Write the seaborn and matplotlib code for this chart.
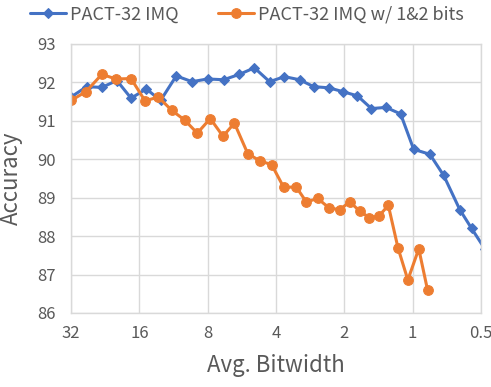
import numpy as np
import pandas as pd
import matplotlib
matplotlib.use("Agg")
import matplotlib.pyplot as plt
import seaborn as sns

# Data
blue_bits = [32, 27.3, 23.4, 20.1, 17.4, 14.9, 12.9, 11.0, 9.38, 8.0, 6.8, 5.8, 4.98, 4.27,
             3.67, 3.15, 2.73, 2.34, 2.03, 1.75, 1.52, 1.31, 1.13, 0.99, 0.84, 0.73, 0.62,
             0.55, 0.48]
blue_acc = [91.62, 91.89, 91.87, 92.05, 91.59, 91.83, 91.53, 92.17, 92.02, 92.09, 92.07,
            92.21, 92.38, 92.02, 92.15, 92.07, 91.89, 91.86, 91.76, 91.65, 91.32, 91.35,
            91.18, 90.26, 90.13, 89.58, 88.69, 88.20, 87.66]

orange_bits = [32, 27.5, 23.4, 20.3, 17.4, 15.1, 13.2, 11.5, 10.1, 8.89, 7.79, 6.85, 6.1,
               5.33, 4.72, 4.18, 3.70, 3.26, 2.94, 2.62, 2.33, 2.10, 1.89, 1.71, 1.55, 1.41,
               1.28, 1.16, 1.05, 0.94, 0.86]
orange_acc = [91.53, 91.76, 92.21, 92.09, 92.10, 91.52, 91.62, 91.27, 91.02, 90.68, 91.06,
              90.60, 90.94, 90.15, 89.96, 89.86, 89.27, 89.28, 88.89, 88.98, 88.73, 88.69,
              88.89, 88.65, 88.48, 88.52, 88.80, 87.69, 86.86, 87.67, 86.60]

series_names = ["PACT-32 IMQ", "PACT-32 IMQ w/ 1&2 bits"]
x_ticks = [32, 16, 8, 4, 2, 1, 0.5]
x_tick_labels = ["32", "16", "8", "4", "2", "1", "0.5"]
y_ticks = [86, 87, 88, 89, 90, 91, 92, 93]

sns.set_theme(style="white")
plt.rcParams['font.family'] = ['Noto Sans CJK SC', 'DejaVu Sans']
plt.rcParams['font.weight'] = 'light'
plt.rcParams['axes.labelweight'] = 'light'

BLUE = "#4472C4"
ORANGE = "#ED7D31"
GRAY_TXT = "#595959"
GRID = "#D9D9D9"

fig = plt.figure(figsize=(4.91, 3.87), dpi=100)
ax = fig.add_axes([71/491, 74/387, 410/491, 269/387])

df_b = pd.DataFrame({"bits": blue_bits, "acc": blue_acc})
df_o = pd.DataFrame({"bits": orange_bits, "acc": orange_acc})

sns.lineplot(data=df_b, x="bits", y="acc", ax=ax, color=BLUE, marker="D",
             markersize=5.5, markeredgecolor=BLUE, linewidth=2.2, sort=False,
             label=series_names[0])
sns.lineplot(data=df_o, x="bits", y="acc", ax=ax, color=ORANGE, marker="o",
             markersize=7, markeredgecolor=ORANGE, linewidth=2.2, sort=False,
             label=series_names[1])

ax.set_xscale("log", base=2)
ax.set_xlim(32, 0.5)
ax.set_ylim(86, 93)
ax.set_xticks(x_ticks)
ax.set_xticklabels(x_tick_labels)
ax.minorticks_off()
ax.set_yticks(y_ticks)
ax.set_yticklabels([str(v) for v in y_ticks])

ax.grid(True, color=GRID, linewidth=1.0)
ax.set_axisbelow(True)
for s in ax.spines.values():
    s.set_color(GRID)
    s.set_linewidth(1.0)

ax.tick_params(axis="x", length=0, pad=9, labelsize=12, labelcolor=GRAY_TXT)
ax.tick_params(axis="y", length=0, pad=11, labelsize=12, labelcolor=GRAY_TXT)

ax.set_xlabel("Avg. Bitwidth", fontsize=16, color=GRAY_TXT, labelpad=8, fontweight='light')
ax.set_ylabel("Accuracy", fontsize=16, color=GRAY_TXT, labelpad=10, fontweight='light')

handles, labels = ax.get_legend_handles_labels()
ax.get_legend().remove()
fig.legend(handles, labels, loc="center", bbox_to_anchor=(0.503, 0.962), ncol=2,
           frameon=False, fontsize=13, handlelength=2.0, handletextpad=0.2,
           columnspacing=2.2, labelcolor=GRAY_TXT, prop={'weight': 'light', 'size': 13})

fig.savefig("out.png", dpi=100)
